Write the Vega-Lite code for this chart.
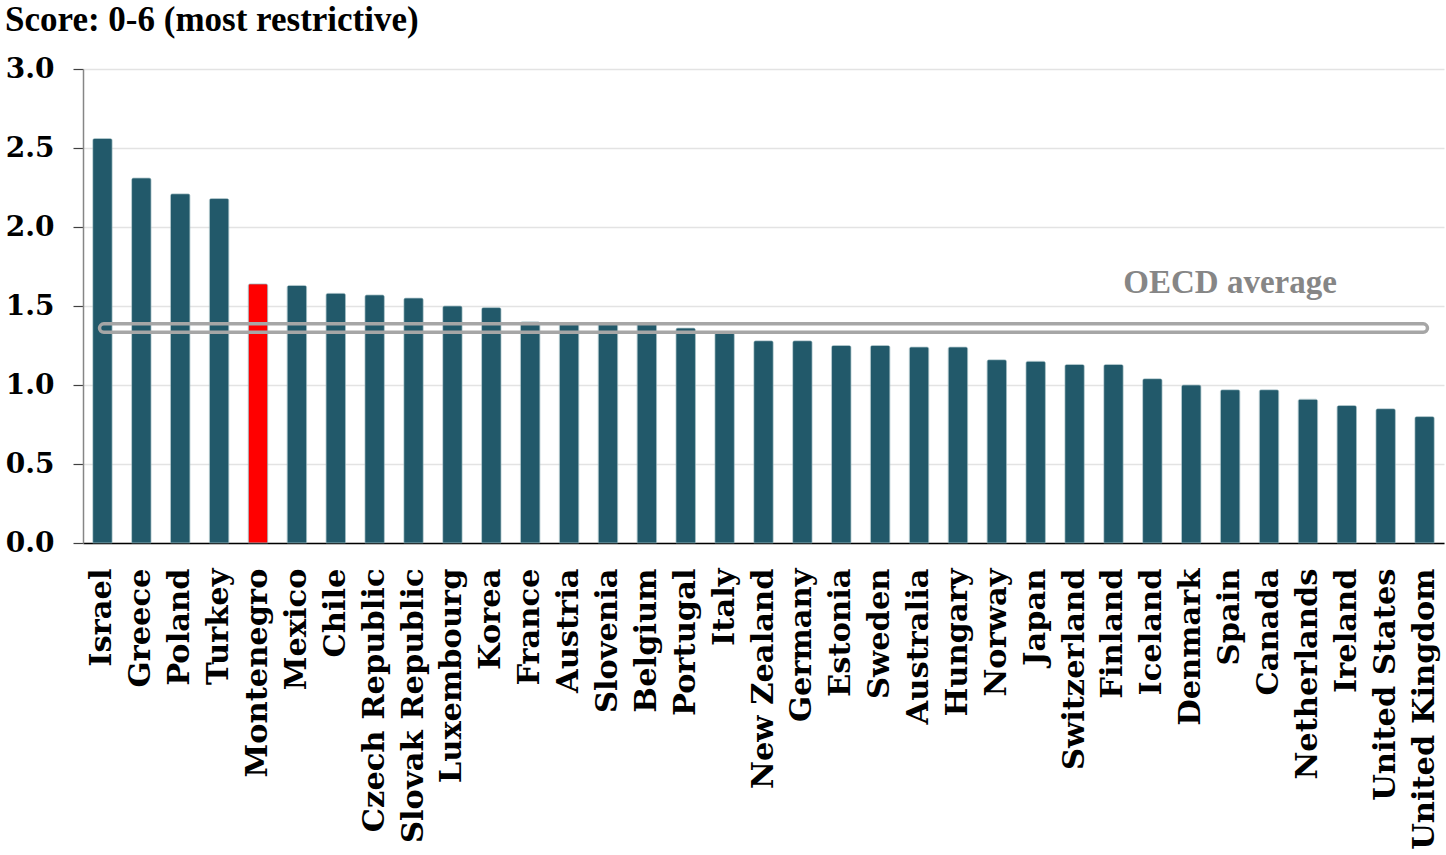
{
  "$schema": "https://vega.github.io/schema/vega-lite/v6.json",
  "width": 1361,
  "height": 474,
  "autosize": "none",
  "padding": {"left": 83, "top": 69, "right": 2, "bottom": 312},
  "background": "white",
  "title": {
    "text": "Score: 0-6 (most restrictive)",
    "anchor": "start",
    "frame": "group",
    "dx": -78,
    "dy": 36,
    "offset": 25,
    "baseline": "alphabetic",
    "font": "Liberation Serif",
    "fontSize": 35,
    "fontWeight": "bold",
    "color": "#000000"
  },
  "data": {
    "values": [
      {"country": "Israel", "score": 2.56},
      {"country": "Greece", "score": 2.31},
      {"country": "Poland", "score": 2.21},
      {"country": "Turkey", "score": 2.18},
      {"country": "Montenegro", "score": 1.64},
      {"country": "Mexico", "score": 1.63},
      {"country": "Chile", "score": 1.58},
      {"country": "Czech Republic", "score": 1.57},
      {"country": "Slovak Republic", "score": 1.55},
      {"country": "Luxembourg", "score": 1.50},
      {"country": "Korea", "score": 1.49},
      {"country": "France", "score": 1.40},
      {"country": "Austria", "score": 1.39},
      {"country": "Slovenia", "score": 1.39},
      {"country": "Belgium", "score": 1.39},
      {"country": "Portugal", "score": 1.36},
      {"country": "Italy", "score": 1.33},
      {"country": "New Zealand", "score": 1.28},
      {"country": "Germany", "score": 1.28},
      {"country": "Estonia", "score": 1.25},
      {"country": "Sweden", "score": 1.25},
      {"country": "Australia", "score": 1.24},
      {"country": "Hungary", "score": 1.24},
      {"country": "Norway", "score": 1.16},
      {"country": "Japan", "score": 1.15},
      {"country": "Switzerland", "score": 1.13},
      {"country": "Finland", "score": 1.13},
      {"country": "Iceland", "score": 1.04},
      {"country": "Denmark", "score": 1.00},
      {"country": "Spain", "score": 0.97},
      {"country": "Canada", "score": 0.97},
      {"country": "Netherlands", "score": 0.91},
      {"country": "Ireland", "score": 0.87},
      {"country": "United States", "score": 0.85},
      {"country": "United Kingdom", "score": 0.80}
    ]
  },
  "layer": [
    {
      "mark": {
        "type": "bar",
        "cornerRadiusTopLeft": 2,
        "cornerRadiusTopRight": 2,
        "stroke": "#8eaeb6",
        "strokeWidth": 0.8,
        "strokeOpacity": 0.7
      },
      "encoding": {
        "x": {
          "field": "country",
          "type": "nominal",
          "sort": null,
          "scale": {"paddingInner": 0.5, "paddingOuter": 0.25},
          "axis": {
            "title": null,
            "domainColor": "#000000",
            "domainWidth": 1.5,
            "ticks": false,
            "labelAngle": -90,
            "labelAlign": "right",
            "labelBaseline": "middle",
            "labelPadding": 25,
            "labelFont": "DejaVu Serif",
            "labelFontSize": 30.5,
            "labelFontWeight": "bold",
            "labelColor": "#000000",
            "labelLimit": 400
          }
        },
        "y": {
          "field": "score",
          "type": "quantitative",
          "scale": {"domain": [0, 3], "nice": false, "zero": true},
          "axis": {
            "title": null,
            "values": [0, 0.25, 0.5, 0.75, 1, 1.25, 1.5, 1.75, 2, 2.25, 2.5, 2.75, 3],
            "labelExpr": "datum.value % 0.5 == 0 ? format(datum.value, '.1f') : ''",
            "domainColor": "#868686",
            "domainWidth": 1.5,
            "tickColor": "#404040",
            "tickWidth": 1.2,
            "tickSize": {"condition": {"test": "datum.value % 0.5 == 0", "value": 10}, "value": 7},
            "grid": true,
            "gridColor": "#e3e3e3",
            "gridWidth": 1.5,
            "gridOpacity": {"condition": {"test": "datum.value % 0.5 == 0", "value": 1}, "value": 0},
            "labelPadding": 19,
            "labelFont": "DejaVu Serif",
            "labelFontSize": 28,
            "labelFontWeight": "bold",
            "labelColor": "#000000"
          }
        },
        "color": {
          "condition": {"test": "datum.country === 'Montenegro'", "value": "#ff0000"},
          "value": "#22596a"
        }
      }
    },
    {
      "data": {"values": [{"label": "OECD average", "value": 1.36}]},
      "mark": {
        "type": "rect",
        "height": 8.5,
        "cornerRadius": 4.25,
        "fill": null,
        "filled": false,
        "stroke": "#a6a6a6",
        "strokeWidth": 3.5
      },
      "encoding": {
        "x": {"datum": "Israel", "bandPosition": 0.35},
        "x2": {"datum": "United Kingdom", "bandPosition": 0.65},
        "y": {"field": "value", "type": "quantitative"}
      }
    },
    {
      "data": {"values": [{"label": "OECD average", "value": 1.36}]},
      "mark": {
        "type": "text",
        "dy": -35,
        "baseline": "alphabetic",
        "align": "center",
        "font": "Liberation Serif",
        "fontSize": 33,
        "fontWeight": "bold",
        "color": "#868686"
      },
      "encoding": {
        "x": {"datum": "Spain"},
        "y": {"field": "value", "type": "quantitative"},
        "text": {"field": "label"}
      }
    }
  ],
  "config": {"view": {"stroke": null}}
}
